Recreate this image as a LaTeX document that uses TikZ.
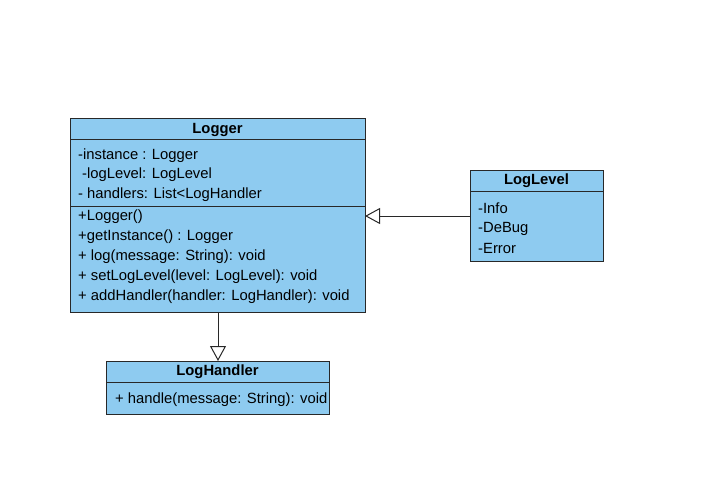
\documentclass[tikz,border=0pt]{standalone}
\usepackage{fontspec}
\setmainfont{Liberation Sans}
\usetikzlibrary{arrows.meta}
\definecolor{umlfill}{RGB}{142,203,240}
\definecolor{umlline}{RGB}{40,40,40}
\tikzset{
  classbox/.style={draw=umlline, fill=umlfill, line width=1pt, anchor=north west, inner sep=0pt},
  title/.style={font=\fontsize{14.8}{15}\selectfont\bfseries, anchor=center, inner sep=0pt},
  member/.style={font=\fontsize{14.8}{15}\selectfont, anchor=west, inner sep=0pt},
  divider/.style={draw=umlline, line width=1pt},
  inherit/.style={draw=umlline, line width=1pt, -{Triangle[open, length=15pt, width=16pt, line width=1pt]}}
}
\begin{document}
\begin{tikzpicture}[x=1pt,y=-1pt]
\useasboundingbox (0,0) rectangle (728,492);
% Logger
\node[classbox, minimum width=295pt, minimum height=194pt] (logger) at (70,118) {};
\node[title] (loggerT) at (217.5,129.5) {Logger};
\draw[divider] (70,140) -- (365,140);
\draw[divider] (70,206) -- (365,206);
\node[member] (a1) at (78,155.5) {-instance : Logger};
\node[member] (a2) at (82,175) {-logLevel: LogLevel};
\node[member] (a3) at (78,195) {- handlers: List<LogHandler};
\node[member] (m1) at (78,216.5) {+Logger()};
\node[member] (m2) at (78,237) {+getInstance() : Logger};
\node[member] (m3) at (78,256.5) {+ log(message: String): void};
\node[member] (m4) at (78,276.5) {+ setLogLevel(level: LogLevel): void};
\node[member] (m5) at (78,296.5) {+ addHandler(handler: LogHandler): void};
% LogLevel
\node[classbox, minimum width=133pt, minimum height=91pt] (loglevel) at (470,170) {};
\node[title] (loglevelT) at (536.5,181) {LogLevel};
\draw[divider] (470,191) -- (603,191);
\node[member] (l1) at (478,208.5) {-Info};
\node[member] (l2) at (478,228.5) {-DeBug};
\node[member] (l3) at (478,248) {-Error};
% LogHandler
\node[classbox, minimum width=223pt, minimum height=53pt] (loghandler) at (106,361) {};
\node[title] (loghandlerT) at (217.5,372) {LogHandler};
\draw[divider] (106,382) -- (329,382);
\node[member] (h1) at (115,399.5) {+ handle(message: String): void};
% connectors
\coordinate (llw) at (470,216);
\coordinate (lge) at (365,216);
\draw[inherit] (llw) -- (lge);
\coordinate (lgs) at (218,312);
\coordinate (lhn) at (218,361);
\draw[inherit] (lgs) -- (lhn);
\end{tikzpicture}
\end{document}
